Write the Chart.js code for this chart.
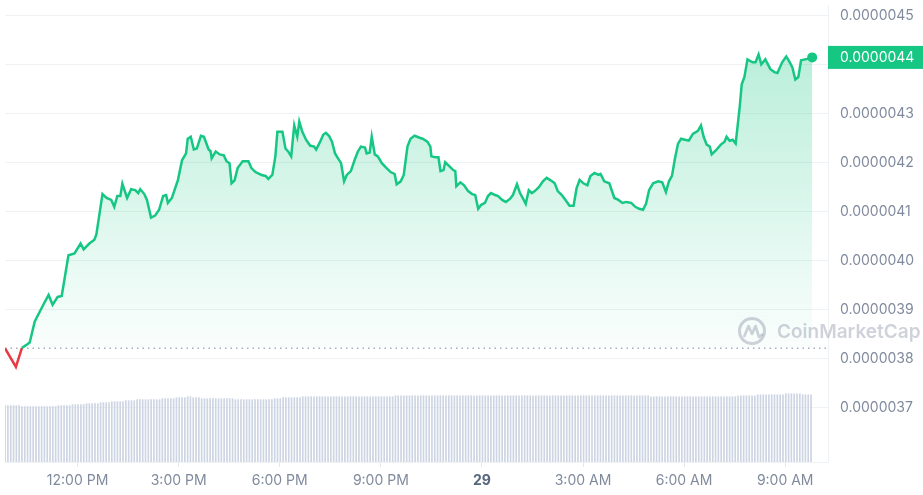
<!DOCTYPE html>
<html>
<head>
<meta charset="utf-8">
<script src="https://cdn.jsdelivr.net/npm/chart.js@4.4.1/dist/chart.umd.min.js"></script>
<style>
html, body { margin: 0; padding: 0; background: #fff; }
#wrap { width: 923px; height: 495px; position: relative; }
</style>
</head>
<body>
<div id="wrap"><canvas id="myChart"></canvas></div>
<script>
// time of each price point, hours after 12:00 PM on the 28th
var times = [
  -2.15,-1.83,-1.65,-1.50,-1.42,-1.27,-1.00,-0.86,-0.74,-0.59,
  -0.47,-0.27,-0.09,0.09,0.18,0.35,0.50,0.56,0.74,0.86,
  1.00,1.09,1.18,1.27,1.33,1.47,1.59,1.71,1.80,1.86,
  1.98,2.06,2.18,2.30,2.42,2.54,2.63,2.68,2.80,2.98,
  3.10,3.22,3.27,3.36,3.45,3.54,3.66,3.75,3.89,3.95,
  3.98,4.10,4.22,4.34,4.42,4.51,4.57,4.66,4.75,4.90,
  5.07,5.16,5.28,5.46,5.58,5.66,5.78,5.87,5.93,6.08,
  6.17,6.25,6.34,6.43,6.52,6.58,6.67,6.78,6.90,7.02,
  7.08,7.20,7.29,7.37,7.46,7.55,7.64,7.73,7.82,7.91,
  7.99,8.11,8.23,8.32,8.41,8.53,8.58,8.67,8.73,8.82,
  8.91,9.03,9.17,9.29,9.41,9.47,9.59,9.68,9.79,9.88,
  10.00,10.15,10.24,10.38,10.47,10.50,10.62,10.71,10.77,10.86,
  10.91,11.03,11.15,11.21,11.24,11.36,11.47,11.59,11.71,11.80,
  11.89,11.98,12.09,12.18,12.27,12.39,12.48,12.60,12.71,12.83,
  12.92,13.04,13.13,13.24,13.30,13.39,13.48,13.57,13.69,13.81,
  13.92,14.04,14.16,14.25,14.37,14.48,14.60,14.72,14.81,14.90,
  15.01,15.13,15.22,15.34,15.46,15.52,15.63,15.78,15.93,16.05,
  16.17,16.28,16.43,16.55,16.67,16.78,16.87,16.96,17.08,17.23,
  17.35,17.46,17.55,17.64,17.73,17.82,17.91,18.02,18.14,18.26,
  18.41,18.50,18.58,18.67,18.76,18.82,18.94,19.09,19.20,19.26,
  19.35,19.44,19.53,19.65,19.71,19.79,19.88,20.03,20.12,20.21,
  20.29,20.41,20.56,20.68,20.77,20.91,21.03,21.12,21.21,21.30,
  21.39,21.47,21.59,21.74,21.80
];

// price in millionths (x 0.000001)
var prices = [
  3.821,3.783,3.822,3.829,3.833,3.876,3.912,3.930,3.910,3.926,
  3.928,4.011,4.015,4.035,4.023,4.035,4.043,4.054,4.136,4.128,
  4.124,4.110,4.132,4.132,4.157,4.128,4.146,4.144,4.138,4.146,
  4.136,4.124,4.088,4.092,4.104,4.132,4.134,4.118,4.128,4.165,
  4.205,4.219,4.249,4.253,4.227,4.229,4.255,4.253,4.227,4.223,
  4.209,4.223,4.217,4.215,4.203,4.199,4.158,4.164,4.189,4.203,
  4.203,4.189,4.181,4.175,4.173,4.167,4.175,4.213,4.263,4.263,
  4.229,4.223,4.213,4.276,4.253,4.284,4.263,4.247,4.235,4.233,
  4.227,4.243,4.257,4.261,4.255,4.243,4.219,4.209,4.199,4.162,
  4.175,4.183,4.207,4.223,4.233,4.231,4.219,4.221,4.253,4.217,
  4.213,4.199,4.189,4.181,4.177,4.156,4.162,4.175,4.233,4.249,
  4.255,4.251,4.249,4.243,4.233,4.213,4.211,4.211,4.183,4.185,
  4.201,4.193,4.185,4.183,4.152,4.160,4.154,4.142,4.136,4.134,
  4.106,4.114,4.118,4.132,4.138,4.134,4.132,4.124,4.120,4.126,
  4.134,4.156,4.138,4.124,4.116,4.144,4.138,4.142,4.150,4.162,
  4.169,4.164,4.158,4.142,4.134,4.124,4.112,4.112,4.148,4.165,
  4.158,4.154,4.173,4.179,4.175,4.177,4.162,4.158,4.128,4.124,
  4.118,4.120,4.118,4.110,4.106,4.104,4.116,4.144,4.158,4.162,
  4.160,4.140,4.162,4.173,4.209,4.239,4.249,4.247,4.245,4.259,
  4.265,4.276,4.253,4.237,4.233,4.217,4.225,4.237,4.243,4.253,
  4.245,4.247,4.239,4.314,4.360,4.375,4.411,4.405,4.405,4.421,
  4.401,4.411,4.391,4.385,4.383,4.405,4.417,4.407,4.395,4.370,
  4.375,4.409,4.411,4.413,4.415
];

// volume, one bar every 5 minutes, a row per hour (relative units)
var volStart = -2.15;
var volStepMin = 5;
var volumes = [
  5.7,5.7,5.7,5.7,5.7,5.7,5.6,5.6,5.6,5.6,5.6,5.6,
  5.6,5.6,5.6,5.6,5.6,5.6,5.6,5.7,5.7,5.7,5.7,5.7,
  5.8,5.8,5.8,5.8,5.8,5.9,5.9,5.9,5.9,5.9,6.0,6.0,
  6.0,6.0,6.1,6.1,6.1,6.1,6.1,6.2,6.2,6.2,6.2,6.3,
  6.3,6.3,6.3,6.3,6.3,6.3,6.3,6.3,6.4,6.4,6.4,6.4,
  6.4,6.5,6.5,6.5,6.5,6.6,6.6,6.5,6.5,6.5,6.4,6.4,
  6.4,6.4,6.4,6.4,6.4,6.4,6.4,6.4,6.4,6.4,6.3,6.3,
  6.3,6.3,6.3,6.3,6.3,6.3,6.3,6.3,6.3,6.3,6.3,6.3,
  6.4,6.4,6.4,6.5,6.5,6.5,6.5,6.5,6.5,6.5,6.6,6.6,
  6.6,6.6,6.6,6.6,6.6,6.6,6.6,6.6,6.6,6.6,6.6,6.6,
  6.6,6.6,6.6,6.6,6.6,6.6,6.6,6.6,6.6,6.6,6.6,6.6,
  6.6,6.6,6.6,6.6,6.6,6.6,6.6,6.7,6.7,6.7,6.7,6.7,
  6.7,6.7,6.7,6.7,6.7,6.7,6.7,6.7,6.7,6.7,6.7,6.7,
  6.7,6.7,6.7,6.7,6.7,6.7,6.7,6.7,6.7,6.7,6.7,6.7,
  6.7,6.7,6.7,6.7,6.7,6.7,6.7,6.7,6.7,6.7,6.7,6.7,
  6.7,6.7,6.7,6.7,6.7,6.7,6.7,6.7,6.7,6.7,6.7,6.7,
  6.7,6.7,6.7,6.7,6.7,6.7,6.7,6.7,6.7,6.7,6.7,6.7,
  6.7,6.7,6.7,6.7,6.7,6.7,6.7,6.7,6.7,6.7,6.7,6.7,
  6.7,6.7,6.7,6.7,6.7,6.7,6.7,6.7,6.7,6.7,6.7,6.7,
  6.7,6.7,6.6,6.6,6.6,6.6,6.6,6.6,6.6,6.6,6.6,6.6,
  6.6,6.6,6.6,6.6,6.6,6.6,6.6,6.6,6.6,6.6,6.6,6.6,
  6.6,6.6,6.6,6.6,6.6,6.6,6.6,6.6,6.6,6.7,6.7,6.7,
  6.7,6.7,6.7,6.7,6.8,6.8,6.8,6.8,6.8,6.8,6.8,6.8,
  6.8,6.8,6.9,6.9,6.9,6.9,6.9,6.9,6.8,6.8,6.8,6.8
];

var tickHours = [0, 3, 6, 9, 12, 15, 18, 21];
var timeLabels = ['12:00 PM', '3:00 PM', '6:00 PM', '9:00 PM', '29', '3:00 AM', '6:00 AM', '9:00 AM'];
var priceTicks = [3.7, 3.8, 3.9, 4.0, 4.1, 4.2, 4.3, 4.4, 4.5];

var green = '#16c784';
var red = '#ea3943';
var grey = '#808a9d';
var base = prices[0] * 1e-6;

var linePts = times.map(function (t, i) { return { x: t, y: prices[i] * 1e-6 }; });
var volPts = volumes.map(function (v, i) { return { x: volStart + i * volStepMin / 60, y: v }; });
var lastPt = linePts[linePts.length - 1];

Chart.defaults.font.family = 'Inter';

function tagY(chart) {
  return chart.scales.y.getPixelForValue(lastPt.y);
}

var baselinePlugin = {
  id: 'baseline',
  beforeDatasetsDraw: function (chart) {
    var c = chart.ctx, a = chart.chartArea;
    var y = chart.scales.y.getPixelForValue(base);
    c.save();
    c.strokeStyle = '#a7afc0';
    c.lineWidth = 1.5;
    c.setLineDash([1.5, 4]);
    c.beginPath();
    c.moveTo(a.left, y);
    c.lineTo(a.right, y);
    c.stroke();
    c.restore();
  }
};

var tagPlugin = {
  id: 'tag',
  afterDraw: function (chart) {
    var c = chart.ctx, a = chart.chartArea;
    c.save();
    // watermark
    c.strokeStyle = 'rgba(128,138,157,0.38)';
    c.fillStyle = 'rgba(128,138,157,0.38)';
    c.lineWidth = 3;
    c.beginPath();
    c.arc(752, 331, 12.5, 0, Math.PI * 2);
    c.stroke();
    c.lineWidth = 2.6;
    c.lineJoin = 'round';
    c.beginPath();
    c.moveTo(744, 337);
    c.lineTo(748.5, 326);
    c.lineTo(752, 334);
    c.lineTo(755.5, 326);
    c.lineTo(759, 337);
    c.lineTo(763, 334);
    c.stroke();
    c.font = '600 19px Inter';
    c.textBaseline = 'middle';
    c.textAlign = 'left';
    c.fillText('CoinMarketCap', 777, 332);

    // last price tag
    var y = tagY(chart);
    c.fillStyle = green;
    c.fillRect(a.right, y - 11.5, chart.width - a.right, 23);
    c.fillStyle = '#fff';
    c.font = '14px Inter';
    c.fillText(lastPt.y.toFixed(7), a.right + 12, y + 0.5);
    c.restore();
  }
};

new Chart(document.getElementById('myChart'), {
  data: {
    datasets: [{
      type: 'line',
      data: linePts,
      borderColor: green,
      borderWidth: 2.5,
      tension: 0,
      pointRadius: function (ctx) { return ctx.dataIndex === linePts.length - 1 ? 5 : 0; },
      pointBackgroundColor: green,
      pointBorderWidth: 0,
      segment: {
        borderColor: function (ctx) {
          return (ctx.p0.parsed.y < base || ctx.p1.parsed.y < base) ? red : green;
        }
      },
      fill: { value: base },
      backgroundColor: function (ctx) {
        var chart = ctx.chart, a = chart.chartArea;
        if (!a) return 'rgba(0,0,0,0)';
        var yb = chart.scales.y.getPixelForValue(base);
        var g = chart.ctx.createLinearGradient(0, a.top, 0, yb);
        g.addColorStop(0, 'rgba(22,199,132,0.34)');
        g.addColorStop(1, 'rgba(22,199,132,0.02)');
        return g;
      },
      order: 1
    }, {
      type: 'bar',
      data: volPts,
      yAxisID: 'yv',
      backgroundColor: '#cdd4e2',
      barThickness: 1,
      borderWidth: 0,
      order: 2
    }]
  },
  options: {
    responsive: true,
    maintainAspectRatio: false,
    animation: false,
    events: [],
    layout: { padding: 0 },
    plugins: { legend: { display: false }, tooltip: { enabled: false } },
    scales: {
      x: {
        type: 'linear',
        offset: false,
        min: -2.153,
        max: 22.27,
        afterBuildTicks: function (axis) {
          axis.ticks = tickHours.map(function (v) { return { value: v }; });
        },
        ticks: {
          autoSkip: false,
          maxRotation: 0,
          padding: 5,
          color: function (ctx) { return ctx.index === 4 ? '#58667e' : grey; },
          font: function (ctx) { return { family: 'Inter', size: 14, weight: ctx.index === 4 ? 'bold' : 'normal' }; },
          callback: function (v, i) { return timeLabels[i]; }
        },
        grid: { offset: false, drawOnChartArea: false, drawTicks: true, tickLength: 5, color: '#e3e7ee' },
        border: { display: true, color: '#eff2f5' },
        afterFit: function (s) { s.height = 33; s.paddingLeft = 0; s.paddingRight = 0; }
      },
      y: {
        position: 'right',
        min: 3.589e-6,
        max: 4.522e-6,
        afterBuildTicks: function (axis) {
          axis.ticks = priceTicks.map(function (v) { return { value: v * 1e-6 }; });
        },
        ticks: {
          padding: 12,
          font: { size: 14 },
          color: function (ctx) {
            var chart = ctx.chart;
            var py = chart.scales.y.getPixelForValue(ctx.tick.value);
            return Math.abs(py - tagY(chart)) < 16 ? 'rgba(0,0,0,0)' : grey;
          },
          callback: function (v) { return v.toFixed(7); }
        },
        grid: { color: '#eff2f5', drawTicks: false },
        border: { display: true, color: '#eff2f5' },
        afterFit: function (s) { s.width = 95; s.paddingTop = 0; s.paddingBottom = 0; }
      },
      yv: {
        display: false,
        min: 0,
        max: 46.2
      }
    }
  },
  plugins: [baselinePlugin, tagPlugin]
});
</script>
</body>
</html>
